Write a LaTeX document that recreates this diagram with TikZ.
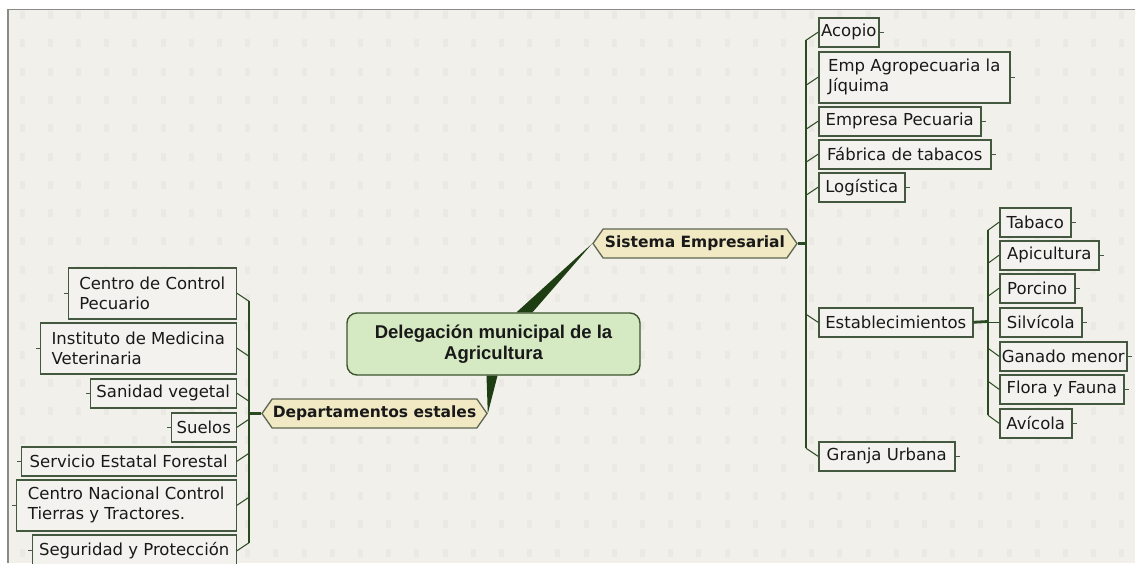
\documentclass[tikz,border=0pt]{standalone}
\usepackage{fontspec}
\setmainfont{DejaVu Sans}
\newfontfamily\arialfont{Liberation Sans}
\usetikzlibrary{shapes.symbols}
\definecolor{bgcol}{HTML}{F1F0EB}
\definecolor{dotcol}{HTML}{EAE9E4}
\definecolor{framecol}{HTML}{8A8A86}
\definecolor{linecol}{HTML}{2B4A22}
\definecolor{wedgecol}{HTML}{1E3D12}
\definecolor{leafborder}{HTML}{44573F}
\definecolor{leaffill}{HTML}{F3F2EE}
\definecolor{ctrfill}{HTML}{D5E9C2}
\definecolor{ctrborder}{HTML}{3D5530}
\definecolor{hexfill}{HTML}{F1E9C3}
\definecolor{hexborder}{HTML}{5E6650}
\tikzset{
  leaf/.style={draw=leafborder, line width=1.5pt, fill=leaffill, inner xsep=2pt, inner ysep=0pt,
    minimum height=29pt, align=left, font=\fontsize{16.5}{20}\selectfont, text=black!90},
  leaftwo/.style={leaf, minimum height=51pt},
  hexnode/.style={signal, signal to=west and east, signal pointer angle=110, draw=hexborder,
    line width=1.3pt, fill=hexfill, minimum height=29pt, inner sep=0pt,
    font=\bfseries\fontsize{15.5}{18}\selectfont, text=black!90},
  centre/.style={rounded corners=10pt, draw=ctrborder, line width=1.4pt, fill=ctrfill,
    minimum width=293pt, minimum height=62pt, align=center,
    font=\arialfont\bfseries\fontsize{18.5}{21}\selectfont, text=black!90},
  trunk/.style={draw=linecol, line width=1.8pt},
  joint/.style={draw=linecol, line width=2.8pt},
  stub/.style={draw=linecol, line width=1pt},
  tick/.style={draw=leafborder, line width=0.9pt}
}
\begin{document}
\begin{tikzpicture}[x=1pt, y=-1pt]
\useasboundingbox (0,0) rectangle (1135,563);
\fill[white] (0,0) rectangle (1135,563);
\fill[bgcol] (8,9.5) rectangle (1135,563);
\foreach \i in {0,...,39} \foreach \j in {0,...,19}
  \fill[dotcol] ({22+28.2*\i-2.5},{15+28.3*\j-4}) rectangle ++(5,8);
\draw[framecol, line width=1.2pt] (8,563) -- (8,9.5) -- (1135,9.5);

% central and main branches
\node[centre] (ctr) at (493.5,344) {Delegación municipal de la\\Agricultura};
\node[hexnode, minimum width=204pt] (sys) at (695,243.5) {Sistema Empresarial};
\node[hexnode, minimum width=225pt] (dep) at (374.5,413.5) {Departamentos estales};

% right tree
\node[leaf, anchor=north west, minimum width=60pt] (acopio) at (818,17) {Acopio};
\node[leaftwo, anchor=north west, minimum width=191pt] (emp) at (818,51) {Emp Agropecuaria la\\Jíquima};
\node[leaf, anchor=north west, minimum width=162pt] (pec) at (818,106) {Empresa Pecuaria};
\node[leaf, anchor=north west, minimum width=172pt] (fab) at (818,139) {Fábrica de tabacos};
\node[leaf, anchor=north west, minimum width=86pt] (log) at (818,172) {Logística};
\node[leaf, anchor=north west, minimum width=154pt] (est) at (818,307) {Establecimientos};
\node[leaf, anchor=north west, minimum width=136pt] (granja) at (818,441) {Granja Urbana};

\node[leaf, anchor=north west, minimum width=71pt] (tab) at (999,207) {Tabaco};
\node[leaf, anchor=north west, minimum width=99pt] (api) at (999,240) {Apicultura};
\node[leaf, anchor=north west, minimum width=75pt] (por) at (999,273) {Porcino};
\node[leaf, anchor=north west, minimum width=82pt] (sil) at (999,307) {Silvícola};
\node[leaf, anchor=north west, minimum width=127pt] (gan) at (999,341) {Ganado menor};
\node[leaf, anchor=north west, minimum width=124pt] (flo) at (999,374) {Flora y Fauna};
\node[leaf, anchor=north west, minimum width=72pt] (avi) at (999,408) {Avícola};

% left tree
\node[leaftwo, anchor=north east, minimum width=168pt] (ccp) at (237,267) {Centro de Control\\Pecuario};
\node[leaftwo, anchor=north east, minimum width=196pt] (imv) at (237,322) {Instituto de Medicina\\Veterinaria};
\node[leaf, anchor=north east, minimum width=146pt] (san) at (237,378) {Sanidad vegetal};
\node[leaf, anchor=north east, minimum width=65pt] (sue) at (237,412) {Suelos};
\node[leaf, anchor=north east, minimum width=215pt] (sef) at (237,446) {Servicio Estatal Forestal};
\node[leaftwo, anchor=north east, minimum width=220pt] (cnc) at (237,479) {Centro Nacional Control\\Tierras y Tractores.};
\node[leaf, anchor=north east, minimum width=204pt, minimum height=32pt] (seg) at (237,534) {Seguridad y Protección};

% wedges from the central topic
\fill[wedgecol] ([xshift=23pt]ctr.north) -- ([xshift=39pt]ctr.north) -- (sys.west) -- cycle;
\fill[wedgecol] ([xshift=-7pt]ctr.south) -- ([xshift=4pt]ctr.south) -- (dep.east) -- cycle;

% right trunk
\coordinate (rj) at (806,243.5);
\draw[joint] (sys.east) -- (rj);
\draw[trunk] ([yshift=-8pt]acopio.west -| rj) -- ([yshift=8pt]granja.west -| rj);
\foreach \n in {acopio,emp,pec,fab,log}
  \draw[stub] ([yshift=-8pt]\n.west -| rj) -- (\n.west);
\foreach \n in {est,granja}
  \draw[stub] ([yshift=8pt]\n.west -| rj) -- (\n.west);

% sub trunk
\coordinate (sj) at (988,321.5);
\draw[joint] (est.east) -- (sj);
\draw[trunk] ([yshift=-8pt]tab.west -| sj) -- ([yshift=8pt]avi.west -| sj);
\foreach \n in {tab,api,por}
  \draw[stub] ([yshift=-8pt]\n.west -| sj) -- (\n.west);
\draw[stub] (sil.west -| sj) -- (sil.west);
\foreach \n in {gan,flo,avi}
  \draw[stub] ([yshift=8pt]\n.west -| sj) -- (\n.west);

% left trunk
\coordinate (lj) at (249,413.5);
\draw[joint] (dep.west) -- (lj);
\draw[trunk] ([yshift=-8pt]ccp.east -| lj) -- ([yshift=8pt]seg.east -| lj);
\foreach \n in {ccp,imv,san}
  \draw[stub] ([yshift=-8pt]\n.east -| lj) -- (\n.east);
\foreach \n in {sue,sef,cnc,seg}
  \draw[stub] ([yshift=8pt]\n.east -| lj) -- (\n.east);

% collapse ticks
\foreach \n in {acopio,emp,pec,fab,log,granja,tab,api,por,sil,gan,flo,avi}
  \draw[tick] (\n.east) -- ++(4,0);
\foreach \n in {ccp,imv,san,sue,sef,cnc,seg}
  \draw[tick] (\n.west) -- ++(-4,0);
\end{tikzpicture}
\end{document}
